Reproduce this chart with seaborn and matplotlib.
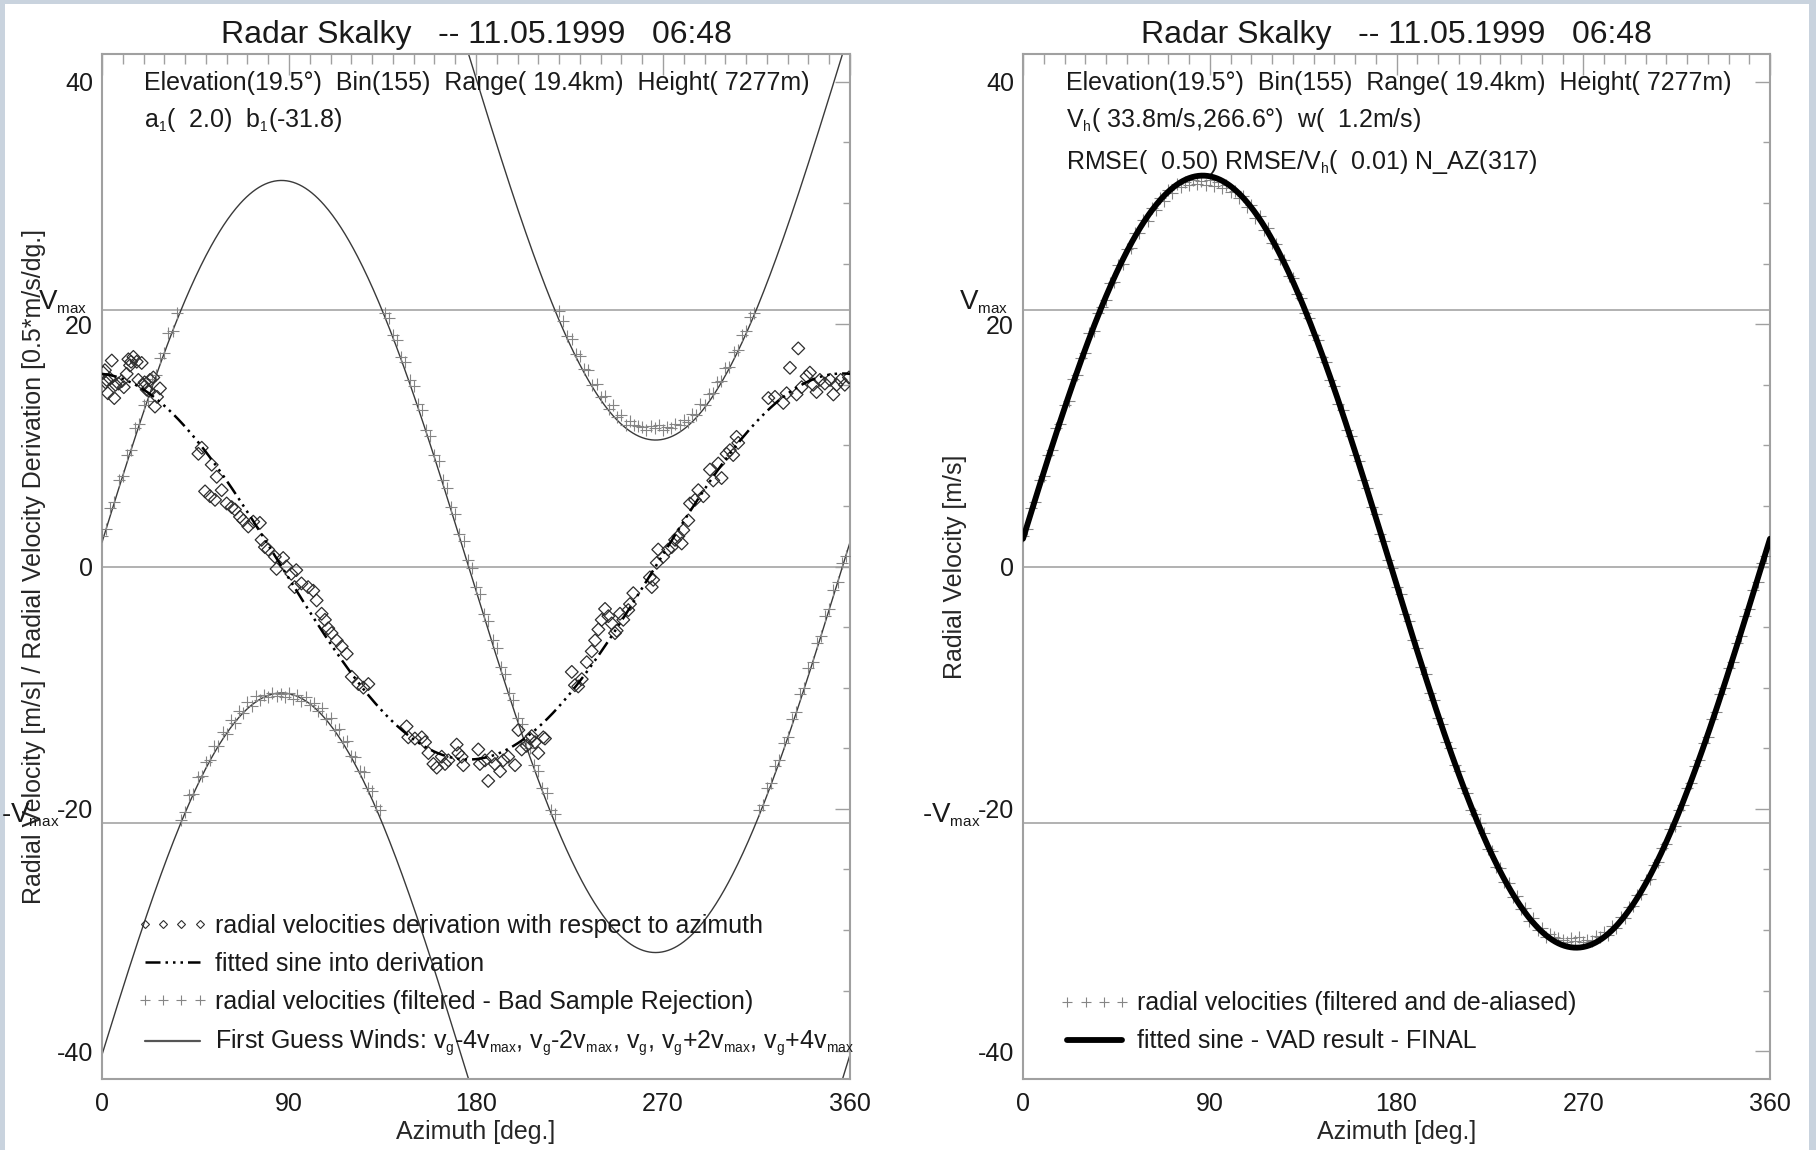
import numpy as np
import pandas as pd
import matplotlib
matplotlib.use("Agg")
import matplotlib.pyplot as plt
import matplotlib.transforms as mtransforms
import matplotlib._mathtext as _mathtext
import seaborn as sns
from matplotlib.lines import Line2D
from matplotlib.patches import Rectangle
from matplotlib.ticker import MultipleLocator, FixedLocator

# ---------------------------------------------------------------- data
TITLE = "Radar Skalky   -- 11.05.1999   06:48"
ELEVATION = 19.5          # deg
BIN, RANGE_KM, HEIGHT_M = 155, 19.4, 7277
VMAX = 21.15              # Nyquist velocity [m/s]
A1, B1 = 2.0, -31.8       # sine fitted into the derivation
VH, VH_DIR, W = 33.8, 266.6, 1.2   # VAD result
RMSE, RMSE_REL, N_AZ = 0.50, 0.01, 317

# radial velocity derivation with respect to azimuth [0.5*m/s/dg.]
deriv_az = [0.6, 1.4, 1.7, 2.2, 2.8, 3.9, 4.7, 5.9, 6.5, 7.9,
            9.5, 10.5, 11.9, 12.7, 13.5, 14.0, 15.1, 16.7, 17.5, 19.1,
            19.9, 20.5, 21.5, 22.5, 23.1, 24.7, 25.5, 26.5, 27.9,
            46.4, 48.0, 49.6, 52.0, 52.8, 54.4, 55.2, 57.6, 60.0, 62.4,
            64.0, 66.4, 68.0, 70.4, 72.8, 76.0, 76.8, 78.4, 80.0, 83.2,
            84.0, 87.2, 88.7, 91.1, 92.7, 93.5, 96.0, 99.2, 101.7, 103.3,
            105.7, 107.3, 108.9, 110.5, 113.0, 115.4, 117.8, 120.2, 123.4, 125.8,
            128.2,
            146.6, 147.4, 150.6, 153.9, 155.5, 157.1, 159.5, 161.1, 163.5, 165.1,
            166.7, 170.7, 171.5, 173.1, 173.9, 181.1, 181.9, 184.3, 185.9, 187.6,
            189.1, 191.6, 193.1, 195.5, 198.8, 200.4, 202.0, 204.4, 206.0, 206.8,
            208.4, 210.0, 212.4, 213.2,
            226.1, 227.6, 229.2, 230.9, 233.3, 235.7, 237.3, 238.9, 240.5, 242.1,
            243.7, 245.3, 246.9, 247.7, 249.3, 250.9, 253.3, 254.1, 255.7, 263.7,
            264.6, 265.3, 267.0, 267.7, 270.1, 272.5, 274.2, 275.8, 277.4, 279.0,
            279.8, 282.2, 283.0, 285.4, 287.0, 289.4, 292.6, 294.2, 296.6, 298.2,
            300.6, 302.2, 303.8, 305.4, 306.2,
            320.7, 323.9, 327.9, 329.5, 331.1, 334.3, 335.1, 336.7, 339.1, 340.7,
            342.3, 343.9, 345.5, 347.9, 350.4, 352.0, 353.6, 355.5, 357.5, 359.5]
deriv_val = [16.0, 16.2, 15.2, 15.4, 14.3, 15.5, 17.0, 13.9, 15.0, 15.1,
             15.3, 14.8, 15.9, 17.1, 16.6, 16.9, 17.3, 16.9, 15.4, 16.8,
             15.0, 15.2, 14.6, 14.5, 15.4, 15.6, 13.2, 14.0, 14.7,
             9.3, 9.8, 6.2, 5.8, 8.4, 5.5, 7.4, 6.3, 5.2, 4.9,
             4.7, 4.1, 3.8, 3.3, 3.7, 3.6, 2.2, 1.6, 1.4, 0.8,
             -0.2, 0.7, 0.0, -0.6, -1.7, -0.3, -1.4, -1.7, -2.0, -2.8,
             -3.9, -4.4, -5.1, -5.5, -6.1, -6.6, -7.2, -9.1, -9.7, -10.0,
             -9.7,
             -13.2, -14.1, -14.2, -14.1, -14.5, -15.4, -16.3, -16.6, -15.7, -16.3,
             -16.0, -14.7, -15.4, -15.7, -16.4, -15.1, -16.3, -16.0, -17.7, -15.7,
             -16.3, -16.9, -16.0, -15.7, -16.4, -13.5, -15.1, -14.8, -14.2, -14.0,
             -14.5, -15.4, -14.1, -14.2,
             -8.7, -9.8, -9.9, -9.3, -7.9, -7.0, -6.1, -5.2, -4.4, -3.5,
             -4.1, -4.7, -5.5, -5.3, -3.9, -4.4, -3.6, -3.1, -2.2, -0.9,
             -1.7, -1.1, 0.3, 1.4, 0.8, 1.4, 1.6, 2.2, 2.5, 1.9,
             3.0, 3.8, 5.2, 5.5, 6.3, 5.8, 8.0, 7.1, 8.5, 7.3,
             9.3, 9.6, 9.2, 10.7, 10.2,
             13.9, 14.0, 13.5, 14.3, 16.4, 14.2, 18.0, 14.8, 15.7, 16.0,
             15.0, 14.4, 15.4, 15.1, 15.4, 14.2, 15.0, 15.4, 15.0, 15.6]

# filtered, de-aliased radial velocities [m/s], one per 2 deg of azimuth
vr_az = np.arange(0, 360, 2)
vr_obs = [2.5, 3.1, 4.8, 5.3, 7.1, 7.5, 9.2, 9.6, 11.4, 11.8,
          13.3, 13.7, 15.5, 15.8, 17.2, 17.6, 19.3, 19.4, 20.9, 21.4,
          22.0, 23.4, 23.5, 24.9, 25.0, 26.2, 26.3, 27.5, 27.5, 28.6,
          28.5, 29.6, 29.4, 30.4, 30.2, 31.1, 30.8, 31.6, 31.3, 31.7,
          31.5, 31.9, 31.6, 31.8, 31.5, 31.9, 31.4, 31.7, 31.2, 31.5,
          30.9, 31.0, 30.4, 30.6, 29.7, 29.8, 28.8, 28.9, 27.8, 27.9,
          26.7, 26.6, 25.4, 25.3, 24.0, 23.8, 22.5, 22.2, 20.9, 20.5,
          19.1, 18.7, 17.3, 16.9, 15.4, 14.9, 13.4, 12.9, 11.3, 10.8,
          9.2, 8.7, 7.1, 6.5, 4.9, 4.3, 2.7, 2.1, 0.5, -0.1,
          -1.7, -2.3, -3.9, -4.5, -6.1, -6.7, -8.3, -8.9, -10.4, -11.0,
          -12.5, -13.0, -14.5, -15.0, -16.4, -16.9, -18.3, -18.7, -20.1, -20.4,
          -21.2, -22.0, -23.3, -23.5, -24.8, -24.9, -26.0, -26.1, -27.3, -27.2,
          -28.3, -28.2, -29.3, -29.0, -30.0, -29.8, -30.6, -30.3, -30.6, -30.7,
          -30.8, -31.0, -30.7, -30.9, -30.6, -31.0, -30.8, -30.9, -30.5, -30.6,
          -30.2, -30.4, -29.7, -29.8, -28.9, -29.0, -28.1, -28.0, -27.1, -27.0,
          -25.9, -25.8, -24.6, -24.4, -23.2, -22.9, -21.7, -21.4, -20.1, -19.7,
          -18.3, -17.9, -16.5, -16.0, -14.6, -14.1, -12.6, -12.0, -10.5, -10.0,
          -8.4, -7.9, -6.3, -5.7, -4.1, -3.5, -1.9, -1.3, 0.3, 0.9]

# ---------------------------------------------------------------- derived
az = np.linspace(0, 360, 721)
th = np.deg2rad(az)
first_guess = A1 * np.cos(th) - B1 * np.sin(th)
deriv_fit = -0.5 * (B1 * np.cos(th) + A1 * np.sin(th))
el = np.deg2rad(ELEVATION)
vad_fit = W * np.sin(el) + VH * np.cos(el) * np.cos(th - np.deg2rad(VH_DIR - 180))

vr = pd.DataFrame({"az": vr_az, "v": vr_obs})
vr["v_raw"] = (vr["v"] + VMAX) % (2 * VMAX) - VMAX     # aliased (measured) values
deriv = pd.DataFrame({"az": deriv_az, "d": deriv_val})

# ---------------------------------------------------------------- style
sns.set_theme(style="white")
plt.rcParams["font.family"] = ["Liberation Sans", "DejaVu Sans"]
plt.rcParams["mathtext.fontset"] = "custom"
plt.rcParams["mathtext.rm"] = "Liberation Sans"
plt.rcParams["mathtext.it"] = "Liberation Sans"
plt.rcParams["axes.unicode_minus"] = False
plt.rcParams["text.color"] = "#1a1a1a"
_mathtext.SHRINK_FACTOR = 0.55          # small IDL-like subscripts

FS = 18
GRID_C = "#9c9c9c"
SPINE_C = "#a0a0a0"
PLUS_C = "#858585"
CURVE_C = "#3a3a3a"
DASH = (0, (6, 2, 1, 2, 1, 2, 1, 2))

fig = plt.figure(figsize=(18.16, 11.5), dpi=100)
fig.patch.set_facecolor("#c9d3de")
fig.add_artist(Rectangle((5 / 1816, 0), 1804 / 1816, 1146 / 1150,
                         transform=fig.transFigure, fc="white", ec="none", zorder=-5))

ax1 = fig.add_axes([102 / 1816, 71 / 1150, 748 / 1816, 1025 / 1150])
ax2 = fig.add_axes([1023 / 1816, 71 / 1150, 747 / 1816, 1025 / 1150])


def style_axes(ax):
    ax.set_xlim(0, 360)
    ax.set_ylim(-2 * VMAX, 2 * VMAX)
    ax.xaxis.set_major_locator(FixedLocator([0, 90, 180, 270, 360]))
    ax.xaxis.set_minor_locator(MultipleLocator(10))
    ax.yaxis.set_major_locator(MultipleLocator(20))
    ax.yaxis.set_minor_locator(MultipleLocator(5))
    ax.tick_params(axis="both", which="both", direction="in", top=True, right=True,
                   color=SPINE_C, width=1.0, labelsize=FS, labelcolor="#1a1a1a")
    ax.tick_params(axis="x", which="major", length=15, pad=9.5)
    ax.tick_params(axis="x", which="minor", length=7.4)
    ax.tick_params(axis="y", which="major", length=11, pad=6.5)
    ax.tick_params(axis="y", which="minor", length=5.4)
    for s in ax.spines.values():
        s.set_color(SPINE_C)
        s.set_linewidth(1.5)
    for y in (0, VMAX, -VMAX):
        ax.axhline(y, color=GRID_C, lw=1.1, zorder=1)
    ax.set_title(TITLE, fontsize=23, pad=8)
    ax.set_xlabel("Azimuth [deg.]", fontsize=FS)
    ax.xaxis.set_label_coords(0.5, -0.0403)
    trans = mtransforms.blended_transform_factory(ax.transAxes, ax.transData)
    ax.text(-15 / 748, VMAX + 0.65, r"V$_{max}$", transform=trans, ha="right",
            va="center", fontsize=20)
    ax.text(-42 / 748, -VMAX + 0.65, r"-V$_{max}$", transform=trans, ha="right",
            va="center", fontsize=20)


# ---------------------------------------------------------------- left panel
style_axes(ax1)
for k in (-4, -2, 0, 2, 4):
    sns.lineplot(x=az, y=first_guess + k * VMAX, ax=ax1, color=CURVE_C, lw=1.0,
                 estimator=None, sort=False, zorder=2)
sns.scatterplot(data=vr, x="az", y="v_raw", ax=ax1, marker="+", s=65,
                color=PLUS_C, linewidth=0.8, zorder=3)
sns.scatterplot(data=deriv, x="az", y="d", ax=ax1, marker="D", s=42,
                facecolor="none", edgecolor="#2e2e2e", linewidth=0.9, zorder=4)
sns.lineplot(x=az, y=deriv_fit, ax=ax1, color="black", lw=1.8, linestyle=DASH,
             estimator=None, sort=False, zorder=5)
ax1.set_ylabel("Radial Velocity [m/s] / Radial Velocity Derivation [0.5*m/s/dg.]",
               fontsize=FS)
ax1.yaxis.set_label_coords(-0.0755, 0.5)
ax1.text(0.056, 0.972,
         "Elevation(19.5°)  Bin(155)  Range( 19.4km)  Height( 7277m)",
         transform=ax1.transAxes, fontsize=FS, va="center", ha="left")
ax1.text(0.056, 0.936, r"a$_1$(  %.1f)  b$_1$(%.1f)" % (A1, B1),
         transform=ax1.transAxes, fontsize=FS, va="center", ha="left")

h_d = Line2D([], [], ls="none", marker="D", ms=4.5, mfc="none", mec="#2e2e2e", mew=0.8)
h_f = Line2D([], [], color="black", lw=1.8, ls=DASH)
h_p = Line2D([], [], ls="none", marker="+", ms=7, color=PLUS_C, mew=0.8)
h_g = Line2D([], [], color="#555555", lw=1.6)
ax1.legend([h_d, h_f, h_p, h_g],
           ["radial velocities derivation with respect to azimuth",
            "fitted sine into derivation",
            "radial velocities (filtered - Bad Sample Rejection)",
            r"First Guess Winds: v$_g$-4v$_{max}$, v$_g$-2v$_{max}$, v$_g$, "
            r"v$_g$+2v$_{max}$, v$_g$+4v$_{max}$"],
           loc="lower left", bbox_to_anchor=(0.0468, 0.020), frameon=False,
           numpoints=4, handlelength=2.8, handletextpad=0.3, labelspacing=0.56,
           borderpad=0, borderaxespad=0, fontsize=FS)

# ---------------------------------------------------------------- right panel
style_axes(ax2)
sns.scatterplot(data=vr, x="az", y="v", ax=ax2, marker="+", s=65,
                color=PLUS_C, linewidth=0.8, zorder=3)
sns.lineplot(x=az, y=vad_fit, ax=ax2, color="black", lw=4.2,
             estimator=None, sort=False, zorder=4)
ax2.set_ylabel("Radial Velocity [m/s]", fontsize=FS)
ax2.yaxis.set_label_coords(-0.075, 0.5)
ax2.text(0.0575, 0.972,
         "Elevation(19.5°)  Bin(155)  Range( 19.4km)  Height( 7277m)",
         transform=ax2.transAxes, fontsize=FS, va="center", ha="left")
ax2.text(0.0575, 0.936, r"V$_h$( %.1fm/s,%.1f°)  w(  %.1fm/s)" % (VH, VH_DIR, W),
         transform=ax2.transAxes, fontsize=FS, va="center", ha="left")
ax2.text(0.0575, 0.895, r"RMSE(  %.2f) RMSE/V$_h$(  %.2f) N_AZ(%d)" % (RMSE, RMSE_REL, N_AZ),
         transform=ax2.transAxes, fontsize=FS, va="center", ha="left")

h_p2 = Line2D([], [], ls="none", marker="+", ms=7, color=PLUS_C, mew=0.8)
h_v = Line2D([], [], color="black", lw=4.2)
ax2.legend([h_p2, h_v],
           ["radial velocities (filtered and de-aliased)",
            "fitted sine - VAD result - FINAL"],
           loc="lower left", bbox_to_anchor=(0.0495, 0.025), frameon=False,
           numpoints=4, handlelength=2.8, handletextpad=0.3, labelspacing=0.56,
           borderpad=0, borderaxespad=0, fontsize=FS)

fig.savefig("out.png", dpi=100, facecolor=fig.get_facecolor())
